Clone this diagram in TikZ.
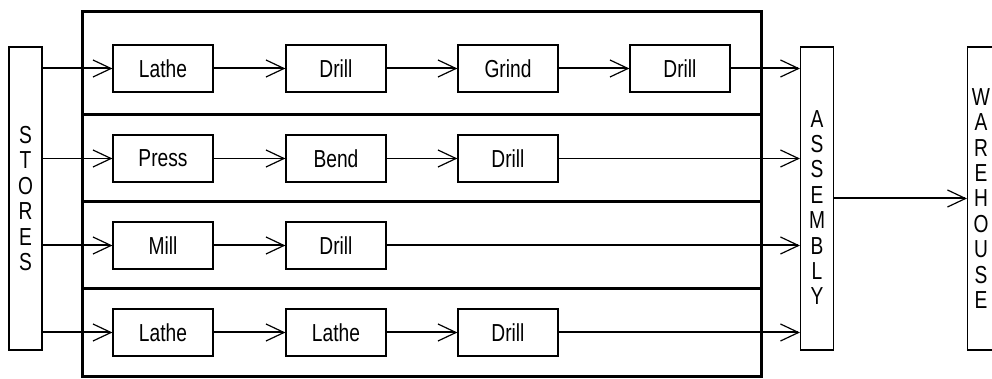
\documentclass[tikz,border=0pt]{standalone}
\usepackage{fontspec}
\setmainfont{Liberation Sans}[FakeStretch=0.78]
\usetikzlibrary{arrows.meta}

\tikzset{
  station/.style={draw, line width=0.6pt, minimum width=50pt, minimum height=23.5pt, inner sep=0pt},
  depot/.style={draw, line width=0.6pt, minimum width=16.5pt, minimum height=151.5pt, inner sep=0pt, align=center},
  flow/.style={line width=1pt, -{Straight Barb[length=9pt,width=8.5pt,line width=0.6pt]}},
  thinflow/.style={flow, line width=0.5pt}
}

\begin{document}
\begin{tikzpicture}[x=0.5pt,y=-0.5pt,font=\fontsize{12.3}{12.7}\selectfont]
		\useasboundingbox (0,0) rectangle (992,379);
		
		%stores, assembly, warehouse
		\node[depot] (stores) at (25.5,198.5) {S\\T\\O\\R\\E\\S};
		\node[depot] (assembly) at (817,198.5) {};
		\node[align=center, inner sep=0pt] (assemblytext) at ([yshift=-4.5pt]assembly.center) {A\\S\\S\\E\\M\\B\\L\\Y};
		\node[depot] (warehouse) at (984,198.5) {};
		\node[align=center, inner sep=0pt] (warehousetext) at ([xshift=-1.5pt]warehouse.center) {W\\A\\R\\E\\H\\O\\U\\S\\E};
		
		%frame
		\draw[line width=1.5pt] (82,12) rectangle (761,377);
		\foreach \y in {115,202,289}
			\draw[line width=1.5pt] (82,\y) -- (761,\y);
		
		%machines
		\node[station] (m11) at (163,68.5) {Lathe};
		\node[station] (m12) at (336,68.5) {Drill};
		\node[station] (m13) at (508,68.5) {Grind};
		\node[station] (m14) at (680,68.5) {Drill};
		
		\node[station] (m21) at (163,158.5) {Press};
		\node[station] (m22) at (336,158.5) {Bend};
		\node[station] (m23) at (508,158.5) {Drill};
		
		\node[station] (m31) at (163,245.5) {Mill};
		\node[station] (m32) at (336,245.5) {Drill};
		
		\node[station] (m41) at (163,332.5) {Lathe};
		\node[station] (m42) at (336,332.5) {Lathe};
		\node[station] (m43) at (508,332.5) {Drill};
		
		%flows
		\draw[flow] (stores.east |- m11.west) -- (m11.west);
		\draw[flow] (m11) -- (m12);
		\draw[flow] (m12) -- (m13);
		\draw[flow] (m13) -- (m14);
		\draw[flow] (m14.east) -- (assembly.west |- m14.east);
		
		\draw[thinflow] (stores.east |- m21.west) -- (m21.west);
		\draw[thinflow] (m21) -- (m22);
		\draw[thinflow] (m22) -- (m23);
		\draw[thinflow] (m23.east) -- (assembly.west |- m23.east);
		
		\draw[flow] (stores.east |- m31.west) -- (m31.west);
		\draw[flow] (m31) -- (m32);
		\draw[flow] (m32.east) -- (assembly.west |- m32.east);
		
		\draw[flow] (stores.east |- m41.west) -- (m41.west);
		\draw[flow] (m41) -- (m42);
		\draw[flow] (m42) -- (m43);
		\draw[flow] (m43.east) -- (assembly.west |- m43.east);
		
		\draw[flow] (assembly) -- (warehouse);
		
\end{tikzpicture}
\end{document}
